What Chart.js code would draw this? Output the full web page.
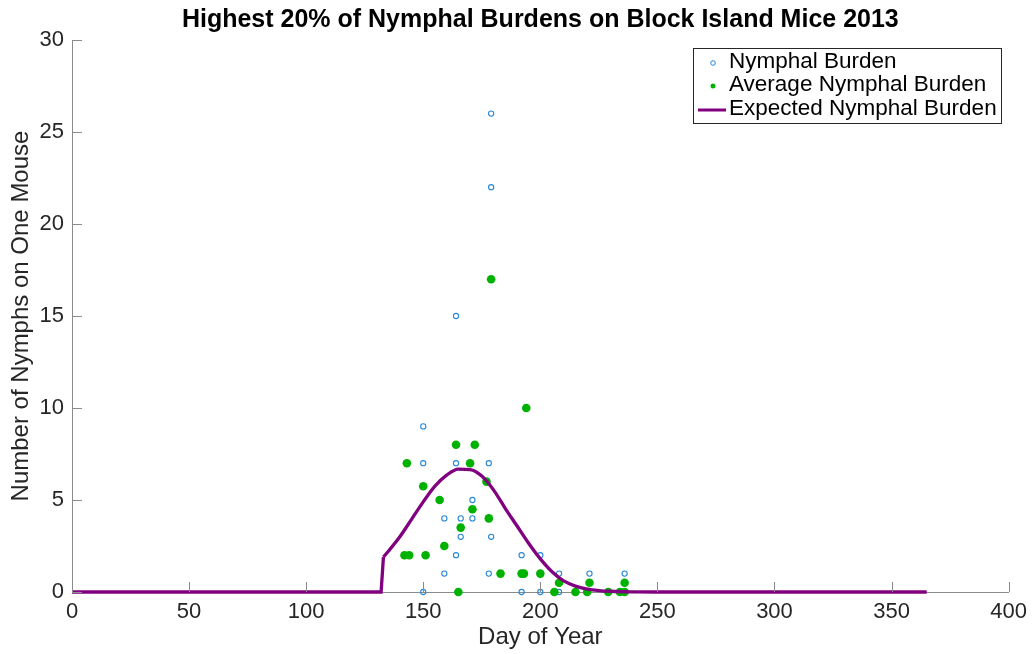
<!DOCTYPE html>
<html lang="en">
<head>
    <meta charset="UTF-8">
    <title>Highest 20% of Nymphal Burdens on Block Island Mice 2013</title>
    <script src="https://cdn.jsdelivr.net/npm/chart.js"></script>
    <style>
        body {
            margin: 0;
            background-color: #fff;
        }

        #chart-container {
            width: 1034px;
            height: 654px;
        }
    </style>
</head>
<body>
    <div id="chart-container">
        <canvas id="burden-chart" width="1034" height="654"></canvas>
    </div>

    <script>
        // Individual mouse burdens (open blue circles)
        var burdenDays   = [150, 150, 164, 178, 171, 159, 166, 171, 166, 179, 164, 192, 200, 159, 178, 208, 221, 236, 150, 192, 200, 208, 179, 179, 164];
        var burdenCounts = [9,   7,   7,   7,   5,   4,   4,   4,   3,   3,   2,   2,   2,   1,   1,   1,   1,   1,   0,   0,   0,   0,   26,  22,  15];

        // Average burden per sampling day (filled green dots)
        var avgDays   = [194, 164, 172, 143, 170, 177, 150,  157, 171, 178, 166, 159, 142, 144, 151, 183, 192, 193, 200, 208, 221, 236, 165, 206, 215, 220, 229, 234, 236, 179];
        var avgCounts = [10,  8,   8,   7,   7,   6,   5.75, 5,   4.5, 4,   3.5, 2.5, 2,   2,   2,   1,   1,   1,   1,   0.5, 0.5, 0.5, 0,   0,   0,   0,   0,   0,   0,   17];

        // Expected burden: flat zero start, then the smooth season curve
        var baseDays   = [0, 132, 133];
        var baseValues = [0, 0,   1.9];
        var curveDays   = [133, 135, 140,  145,  150, 155,  160,  165,  170,  175, 180,  185,  190, 195,  200, 205, 210, 215,  220,  225,  230,  240,  250, 365];
        var curveValues = [1.9, 2.2, 3.0,  3.95, 4.9, 5.75, 6.35, 6.68, 6.65, 6.3, 5.55, 4.55, 3.6, 2.65, 1.8, 1.1, 0.6, 0.32, 0.16, 0.08, 0.04, 0.01, 0,   0];

        var textColor = '#262626';
        var axisColor = '#8a8a8a';
        var purple = 'rgb(128, 0, 128)';
        var fontFamily = 'Helvetica, Arial, "Liberation Sans", sans-serif';

        function toPoints(xs, ys) {
            return xs.map(function (x, i) { return { x: x, y: ys[i] }; });
        }

        // MATLAB style ticks pointing into the plot
        var inwardTicks = {
            id: 'inwardTicks',
            afterDatasetsDraw: function (chart) {
                var ctx = chart.ctx;
                var xs = chart.scales.x, ys = chart.scales.y;
                var area = chart.chartArea;
                ctx.save();
                ctx.strokeStyle = axisColor;
                ctx.lineWidth = 1;
                ctx.beginPath();
                xs.ticks.forEach(function (t) {
                    var px = Math.round(xs.getPixelForValue(t.value)) + 0.5;
                    ctx.moveTo(px, area.bottom);
                    ctx.lineTo(px, area.bottom - 10);
                });
                ys.ticks.forEach(function (t) {
                    var py = Math.round(ys.getPixelForValue(t.value)) + 0.5;
                    ctx.moveTo(area.left, py);
                    ctx.lineTo(area.left + 10, py);
                });
                ctx.stroke();
                ctx.restore();
            }
        };

        // legend box inside the plot, top right
        var boxLegend = {
            id: 'boxLegend',
            afterDraw: function (chart) {
                var ctx = chart.ctx;
                var ds = chart.data.datasets;
                var left = 693.5, top = 48.5, w = 308, h = 75;
                ctx.save();
                ctx.fillStyle = '#fff';
                ctx.fillRect(left, top, w, h);
                ctx.strokeStyle = '#262626';
                ctx.lineWidth = 1;
                ctx.strokeRect(left, top, w, h);

                var rows = [62, 85, 109];
                var textX = 729;

                // open circle
                ctx.beginPath();
                ctx.arc(713, rows[0] + 1, 2.3, 0, Math.PI * 2);
                ctx.strokeStyle = ds[0].borderColor;
                ctx.lineWidth = 1;
                ctx.stroke();

                // filled dot
                ctx.beginPath();
                ctx.arc(713, rows[1] + 1, 2.5, 0, Math.PI * 2);
                ctx.fillStyle = ds[1].backgroundColor;
                ctx.fill();

                // line
                ctx.beginPath();
                ctx.moveTo(698, rows[2] + 1);
                ctx.lineTo(726, rows[2] + 1);
                ctx.strokeStyle = ds[2].borderColor;
                ctx.lineWidth = 3;
                ctx.stroke();

                ctx.fillStyle = '#000';
                ctx.font = '22.5px ' + fontFamily;
                ctx.textBaseline = 'middle';
                ctx.textAlign = 'left';
                for (var i = 0; i < 3; i++) {
                    ctx.fillText(ds[i].label, textX, rows[i]);
                }
                ctx.restore();
            }
        };

        var ctx = document.getElementById('burden-chart').getContext('2d');
        var burdenChart = new Chart(ctx, {
            type: 'scatter',
            data: {
                datasets: [{
                    label: 'Nymphal Burden',
                    data: toPoints(burdenDays, burdenCounts),
                    pointStyle: 'circle',
                    pointRadius: 2.6,
                    borderWidth: 1.1,
                    borderColor: 'rgb(40, 135, 215)',
                    backgroundColor: 'rgba(0, 0, 0, 0)',
                    order: 3,
                    clip: false
                }, {
                    label: 'Average Nymphal Burden',
                    data: toPoints(avgDays, avgCounts),
                    pointRadius: 4.3,
                    borderWidth: 0,
                    backgroundColor: 'rgb(0, 178, 0)',
                    borderColor: 'rgb(0, 178, 0)',
                    order: 2,
                    clip: false
                }, {
                    label: 'Expected Nymphal Burden',
                    data: toPoints(curveDays, curveValues),
                    showLine: true,
                    pointRadius: 0,
                    borderWidth: 3.3,
                    borderColor: purple,
                    backgroundColor: purple,
                    cubicInterpolationMode: 'monotone',
                    order: 0,
                    clip: false
                }, {
                    label: '',
                    data: toPoints(baseDays, baseValues),
                    showLine: true,
                    pointRadius: 0,
                    borderWidth: 3.3,
                    borderColor: purple,
                    backgroundColor: purple,
                    tension: 0,
                    order: 1,
                    clip: false
                }]
            },
            options: {
                responsive: false,
                animation: false,
                devicePixelRatio: 1,
                layout: {
                    padding: { left: 0, right: 25, top: 0, bottom: 0 }
                },
                plugins: {
                    legend: { display: false },
                    tooltip: { enabled: false },
                    title: {
                        display: true,
                        fullSize: false,
                        text: 'Highest 20% of Nymphal Burdens on Block Island Mice 2013',
                        color: '#000',
                        font: { family: fontFamily, size: 25, weight: 'bold' },
                        padding: { top: 5, bottom: 5 }
                    }
                },
                scales: {
                    x: {
                        type: 'linear',
                        min: 0,
                        max: 400,
                        ticks: {
                            stepSize: 50,
                            color: textColor,
                            padding: 7,
                            maxRotation: 0,
                            font: { family: fontFamily, size: 22 }
                        },
                        grid: { display: false, drawTicks: false },
                        border: { display: true, color: axisColor, width: 1 },
                        title: {
                            display: true,
                            text: 'Day of Year',
                            color: textColor,
                            font: { family: fontFamily, size: 24 },
                            padding: { top: 0, bottom: 2 }
                        },
                        afterFit: function (scale) { scale.height = 62; }
                    },
                    y: {
                        type: 'linear',
                        min: 0,
                        max: 30,
                        ticks: {
                            stepSize: 5,
                            color: textColor,
                            padding: 8,
                            font: { family: fontFamily, size: 22 }
                        },
                        grid: { display: false, drawTicks: false },
                        border: { display: true, color: axisColor, width: 1 },
                        title: {
                            display: true,
                            text: 'Number of Nymphs on One Mouse',
                            color: textColor,
                            font: { family: fontFamily, size: 24 },
                            padding: { top: 7, bottom: 0 }
                        },
                        afterFit: function (scale) { scale.width = 72; }
                    }
                }
            },
            plugins: [inwardTicks, boxLegend]
        });
    </script>
</body>
</html>
